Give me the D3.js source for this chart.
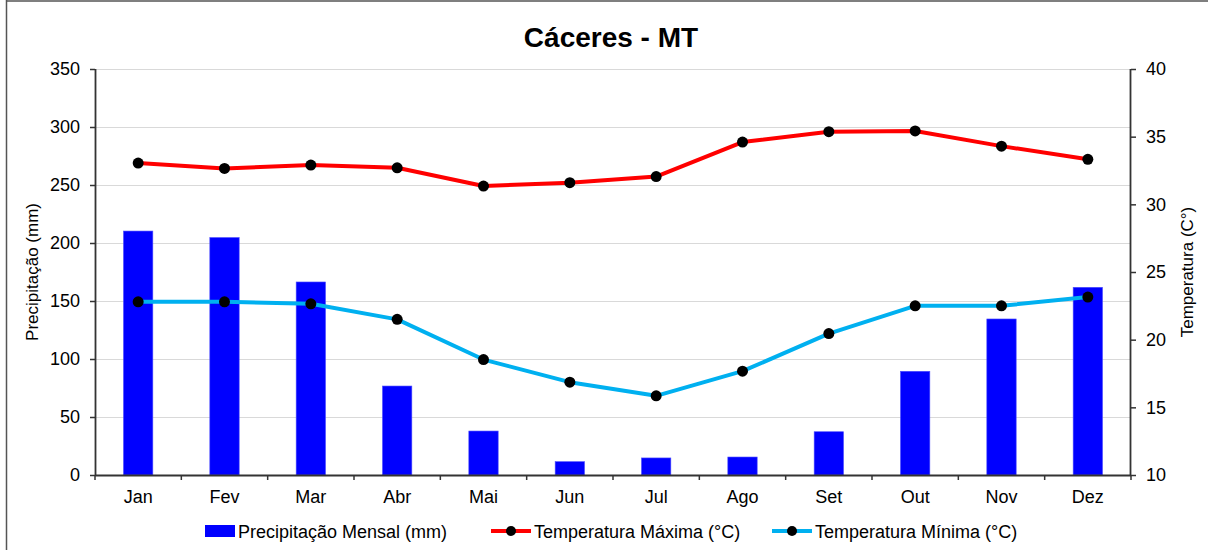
<!DOCTYPE html>
<html><head><meta charset="utf-8">
<script src="https://cdn.jsdelivr.net/npm/d3@7"></script>
<style>body{margin:0;background:#fff}svg{display:block;font-family:"Liberation Sans",Arial,sans-serif}</style>
</head><body><svg id="c" width="1208" height="550"></svg>
<script>
const months = ["Jan","Fev","Mar","Abr","Mai","Jun","Jul","Ago","Set","Out","Nov","Dez"];
const precip = [210.3, 204.7, 166.4, 76.7, 37.9, 11.5, 14.7, 15.5, 37.3, 89.4, 134.5, 161.8];
const tmax = [33.05, 32.65, 32.9, 32.7, 31.35, 31.6, 32.05, 34.6, 35.37, 35.42, 34.3, 33.33];
const tmin = [22.8, 22.8, 22.65, 21.5, 18.53, 16.86, 15.85, 17.67, 20.45, 22.5, 22.5, 23.15];
const precipTicks = [0,50,100,150,200,250,300,350];
const tempTicks = [10,15,20,25,30,35,40];

const svg = d3.select("#c");
const L = 95, R = 1131, T = 69, B = 475;
const x = d3.scaleBand().domain(months).range([L, R]);
const yP = d3.scaleLinear().domain([0,350]).range([B, T]);
const yT = d3.scaleLinear().domain([10,40]).range([B, T]);

// border
svg.append("line").attr("x1",6.5).attr("x2",6.5).attr("y1",0).attr("y2",550).attr("stroke","#555").attr("stroke-width",1.5);
svg.append("line").attr("x1",6).attr("x2",1208).attr("y1",1).attr("y2",1).attr("stroke","#555").attr("stroke-width",1.5);

// title
svg.append("text").attr("x",611).attr("y",47).attr("text-anchor","middle")
  .attr("font-size",28).attr("font-weight","bold").text("Cáceres - MT");

// gridlines
svg.append("g").selectAll("line").data(precipTicks.filter(d=>d>0)).join("line")
  .attr("x1",L).attr("x2",R).attr("y1",d=>yP(d)+0.5).attr("y2",d=>yP(d)+0.5)
  .attr("stroke","#d9d9d9").attr("stroke-width",1);

// bars
const bw = x.bandwidth()*0.34;
svg.append("g").selectAll("rect").data(precip).join("rect")
  .attr("x",(d,i)=>x(months[i])+x.bandwidth()/2-bw/2)
  .attr("y",d=>yP(d)).attr("width",bw).attr("height",d=>B-yP(d))
  .attr("fill","#0000ff").attr("stroke","#4d4dff").attr("stroke-width",0.6);

// axes
const axL = svg.append("g").attr("transform",`translate(${L},0)`)
  .call(d3.axisLeft(yP).tickValues(precipTicks).tickSize(5).tickPadding(10));
const axR = svg.append("g").attr("transform",`translate(${R},0)`)
  .call(d3.axisRight(yT).tickValues(tempTicks).tickSize(5).tickPadding(10));
const axB = svg.append("g").attr("transform",`translate(0,${B})`)
  .call(d3.axisBottom(x).tickSize(0).tickPadding(15));
// band-boundary ticks for x
svg.append("g").selectAll("line").data(d3.range(13)).join("line")
  .attr("x1",i=>L+i*x.step()).attr("x2",i=>L+i*x.step())
  .attr("y1",B).attr("y2",B+5).attr("stroke","#333").attr("stroke-width",1.5);
[axL,axR,axB].forEach(a=>{
  a.selectAll("text").attr("font-size",18).attr("fill","#000").attr("font-family","Liberation Sans, Arial, sans-serif");
  a.selectAll("path").attr("stroke","#333").attr("stroke-width",1.8);
  a.selectAll("line").attr("stroke","#333").attr("stroke-width",1.5);
});
axB.select("path").attr("d",`M${L},0.5H${R}`);
axL.select("path").attr("d",`M0.5,${B}V${T}`);
axR.select("path").attr("d",`M-0.5,${B}V${T}`);

// axis titles
svg.append("text").attr("transform",`translate(38,${(T+B)/2}) rotate(-90)`)
  .attr("text-anchor","middle").attr("font-size",17).text("Precipitação (mm)");
svg.append("text").attr("transform",`translate(1193,${(T+B)/2}) rotate(-90)`)
  .attr("text-anchor","middle").attr("font-size",17).text("Temperatura (C°)");

// lines
const cx = (d,i)=>x(months[i])+x.bandwidth()/2;
function series(data,color){
  const g = svg.append("g");
  g.append("path").datum(data).attr("fill","none").attr("stroke",color).attr("stroke-width",4)
    .attr("stroke-linejoin","round")
    .attr("d",d3.line().x(cx).y(d=>yT(d)));
  g.selectAll("circle").data(data).join("circle").attr("cx",cx).attr("cy",d=>yT(d)).attr("r",5.5).attr("fill","#000");
}
series(tmax,"#ff0000");
series(tmin,"#00b0f0");

// legend
const ly = 531;
const lg = svg.append("g").attr("font-size",18);
lg.append("rect").attr("x",205).attr("y",ly-6).attr("width",30).attr("height",12).attr("fill","#0000ff");
lg.append("text").attr("x",238).attr("y",ly+6.5).text("Precipitação Mensal (mm)");
[[491,"#ff0000","Temperatura Máxima (°C)"],[772,"#00b0f0","Temperatura Mínima (°C)"]].forEach(([lx,c,t])=>{
  lg.append("line").attr("x1",lx).attr("x2",lx+40).attr("y1",ly).attr("y2",ly).attr("stroke",c).attr("stroke-width",4);
  lg.append("circle").attr("cx",lx+20).attr("cy",ly).attr("r",5).attr("fill","#000");
  lg.append("text").attr("x",lx+43).attr("y",ly+6.5).text(t);
});
</script></body></html>
